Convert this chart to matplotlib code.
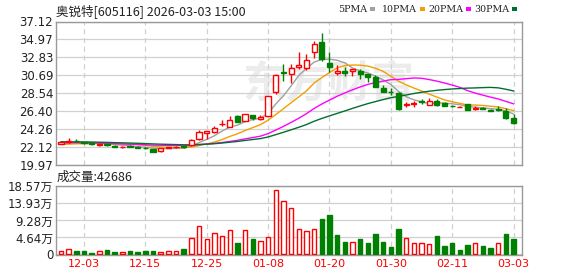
import matplotlib
matplotlib.use("Agg")
import matplotlib.pyplot as plt
import numpy as np
from matplotlib.patches import Rectangle

# ---------------- data ----------------
dates = ["11-28","12-01","12-02","12-03","12-04","12-05","12-08","12-09","12-10","12-11",
         "12-12","12-15","12-16","12-17","12-18","12-19","12-22","12-23","12-24","12-25",
         "12-26","12-29","12-30","12-31","01-05","01-06","01-07","01-08","01-09","01-12",
         "01-13","01-14","01-15","01-16","01-19","01-20","01-21","01-22","01-23","01-26",
         "01-27","01-28","01-29","01-30","02-02","02-03","02-04","02-05","02-06","02-09",
         "02-10","02-11","02-12","02-13","02-24","02-25","02-26","02-27","03-02","03-03"]

opens = [22.50,22.72,22.88,22.66,22.55,22.42,22.45,22.30,22.10,22.22,
         22.15,22.05,21.88,21.62,22.00,22.08,22.20,22.38,23.05,23.85,
         23.90,24.82,24.55,25.82,25.25,25.90,25.45,25.85,28.70,31.05,
         30.90,31.68,31.62,33.52,34.70,32.20,31.02,31.25,31.25,31.20,
         30.85,30.52,29.20,28.72,28.54,27.15,27.23,27.62,27.14,27.62,
         27.36,27.05,26.92,27.22,26.63,26.76,26.58,26.62,26.40,25.62]
highs = [22.75,23.15,23.05,22.75,22.60,22.55,22.50,22.35,22.22,22.32,
         22.20,22.12,21.92,22.05,22.12,22.20,22.24,23.08,24.20,24.05,
         24.60,25.35,25.82,25.90,26.10,25.95,25.90,28.25,30.85,32.08,
         32.08,33.45,33.20,34.80,35.78,33.50,31.92,31.65,31.42,31.42,
         30.90,30.73,29.50,29.14,28.66,27.46,27.66,27.80,28.02,27.86,
         27.45,27.20,27.05,27.30,27.02,26.85,26.65,27.00,26.75,26.03]
lows = [22.45,22.58,22.70,22.50,22.42,22.25,22.25,22.08,21.97,22.08,
        21.98,21.92,21.50,21.58,21.95,22.02,22.06,22.25,22.90,23.08,
        23.80,24.60,24.48,25.05,25.20,25.35,25.35,25.80,28.42,30.00,
        29.80,31.40,31.30,32.72,32.40,31.12,30.73,30.65,30.60,30.20,
        29.90,29.25,28.70,28.34,26.55,26.87,26.94,27.30,27.10,27.03,
        27.00,26.88,26.85,26.55,26.58,26.65,26.40,26.40,25.52,24.85]
closes = [22.70,22.84,22.80,22.58,22.48,22.50,22.32,22.15,22.18,22.12,
          22.05,21.98,21.58,21.98,22.08,22.15,22.12,22.95,23.95,23.98,
          24.35,24.90,25.35,25.10,26.05,25.62,25.68,28.25,30.70,30.95,
          31.52,31.92,32.48,34.45,32.60,31.65,31.25,30.95,31.40,30.80,
          30.45,29.28,28.75,28.68,26.68,27.28,27.42,27.48,27.66,27.20,
          27.05,27.02,26.96,26.60,26.75,26.72,26.48,26.60,25.55,25.00]
# closes before the visible window (used only for moving averages)
prior_closes = [22.95,23.00,22.90,23.05,22.95,22.90,23.00,22.85,22.95,22.90,
                22.90,22.85,22.95,22.80,22.90,22.85,22.95,22.80,22.85,22.75,
                22.50,22.40,22.35,22.45,22.30,22.40,22.35,22.45,22.40]

volumes = [0.92,1.50,1.00,1.00,0.50,0.90,1.30,0.75,0.65,1.00,
           0.80,1.00,1.00,0.60,0.90,0.90,1.60,4.60,7.85,4.30,
           5.90,5.10,6.70,3.00,6.70,4.10,3.70,4.80,17.50,14.50,
           12.60,7.00,6.30,7.00,9.60,10.70,5.40,3.50,3.40,4.30,
           3.20,5.70,3.50,2.10,6.80,4.50,3.10,3.00,2.90,4.90,
           2.40,3.00,1.30,2.70,3.10,2.20,1.85,3.10,5.70,4.27]   # 万
vol_up = [1,1,0,0,0,1,0,0,1,0, 0,0,0,1,1,1,0,1,1,1,
          1,1,1,0,1,0,1,1,1,1, 1,1,1,1,0,0,0,0,1,0,
          0,0,0,0,0,1,1,1,1,0, 0,0,0,0,1,0,0,1,0,0]

price_ticks = [19.97,22.12,24.26,26.40,28.54,30.69,32.83,34.97,37.12]
vol_ticks = [0,4.64,9.28,13.93,18.57]
vol_tick_labels = ["0","4.64万","9.28万","13.93万","18.57万"]
label_idx = [3,11,19,27,35,43,51,59]
ma_periods = [5,10,20,30]
ma_names = ["5PMA","10PMA","20PMA","30PMA"]
ma_colors = ["#a0a0a0","#f0a000","#ff00ff","#006f2e"]
last_volume = "42686"
title = "奥锐特[605116] 2026-03-03 15:00"

# ---------------- figure ----------------
W, H = 578, 276
fig = plt.figure(figsize=(W/100, H/100), dpi=100)
RED = "#ff0000"
GREEN = "#008000"
GRID = "#d0d0d0"
SPINE = "#999999"

def fx(px): return px / W
def fy(py): return 1 - py / H

axp = fig.add_axes([fx(56), fy(165), fx(522) - fx(56), fy(21.5) - fy(165)])
axv = fig.add_axes([fx(56), fy(255), fx(522) - fx(56), fy(186.3) - fy(255)])

n = len(closes)
x = np.arange(n)
o = np.array(opens); c = np.array(closes); h = np.array(highs); l = np.array(lows)
up = c >= o

xlim = (-0.65, 60.1)
for ax in (axp, axv):
    ax.set_xlim(*xlim)
    for s in ax.spines.values():
        s.set_color(SPINE)
        s.set_linewidth(1.0)
    ax.set_xticks(label_idx)
    ax.grid(axis="x", color=GRID, linestyle=(0, (4, 3)), linewidth=0.9)
    ax.grid(axis="y", color=GRID, linestyle="-", linewidth=0.9)
    ax.set_axisbelow(True)
    ax.tick_params(length=0)

# watermark
axp.text(0.585, 0.56, "东方财富", transform=axp.transAxes, ha="center", va="center",
         fontsize=31, color="#ececec", family=["Noto Sans CJK SC"], fontweight="bold", zorder=0)

# moving averages
allc = np.array(prior_closes + closes)
off = len(prior_closes)
for p, col in zip(ma_periods, ma_colors):
    ma = np.array([allc[i - p + 1:i + 1].mean() for i in range(off, off + n)])
    axp.plot(x, ma, color=col, linewidth=1.0, zorder=2)

# candles
bw = 0.68
for i in range(n):
    top = max(o[i], c[i]); bot = min(o[i], c[i])
    col = RED if up[i] else GREEN
    bh = max(top - bot, 0.03)
    if up[i]:
        axp.add_patch(Rectangle((x[i] - bw/2, bot), bw, bh, facecolor="white",
                                edgecolor=col, linewidth=1.0, zorder=4))
    else:
        axp.add_patch(Rectangle((x[i] - bw/2, bot), bw, bh, facecolor=col,
                                edgecolor=col, linewidth=1.0, zorder=4))
    axp.vlines(x[i], top, h[i], color=col, linewidth=1.0, zorder=3)
    axp.vlines(x[i], l[i], bot, color=col, linewidth=1.0, zorder=3)

axp.set_ylim(price_ticks[0], price_ticks[-1])
axp.set_yticks(price_ticks)
axp.set_yticklabels([f"{t:.2f}" for t in price_ticks], fontsize=8.5, color="#222222",
                    family=["DejaVu Sans"])
axp.tick_params(axis="y", pad=2)
axp.set_xticklabels([])

# volume
vw = 0.58
for i in range(n):
    if vol_up[i]:
        axv.add_patch(Rectangle((x[i] - vw/2, 0), vw, volumes[i], facecolor="white",
                                edgecolor=RED, linewidth=1.0, zorder=3))
    else:
        axv.add_patch(Rectangle((x[i] - vw/2, 0), vw, volumes[i], facecolor=GREEN,
                                edgecolor=GREEN, linewidth=1.0, zorder=3))
axv.set_ylim(-0.15, vol_ticks[-1])
axv.set_yticks(vol_ticks)
axv.set_yticklabels(vol_tick_labels, fontsize=8.5, color="#222222",
                    family=["DejaVu Sans", "Noto Sans CJK SC"])
axv.tick_params(axis="y", pad=2)
axv.set_xticklabels([dates[i] for i in label_idx], fontsize=8, color=RED,
                    family=["DejaVu Sans"])
axv.tick_params(axis="x", pad=3)

# title and labels
fig.text(fx(56), fy(11), title, fontsize=9, color="#222222", ha="left", va="center",
         family=["Noto Sans CJK SC", "DejaVu Sans"])
fig.text(fx(57), fy(177), "成交量:" + last_volume, fontsize=9, color="#222222",
         ha="left", va="center", family=["Noto Sans CJK SC", "DejaVu Sans"])

# legend (squares placed right after each label's measured width)
renderer = fig.canvas.get_renderer()
leg_x = [338, 382, 428, 474]
for name, col, lx in zip(ma_names, ma_colors, leg_x):
    t = fig.text(fx(lx), fy(9), name, fontsize=6.8, color="#222222", ha="left", va="center",
                 family=["DejaVu Serif"])
    bb = t.get_window_extent(renderer=renderer)
    sx = bb.x1 + 3
    fig.patches.append(Rectangle((sx / W, fy(10.5)), fx(5), fy(7) - fy(11),
                                 transform=fig.transFigure, facecolor=col,
                                 edgecolor="none"))

fig.savefig("out.png", dpi=100)
